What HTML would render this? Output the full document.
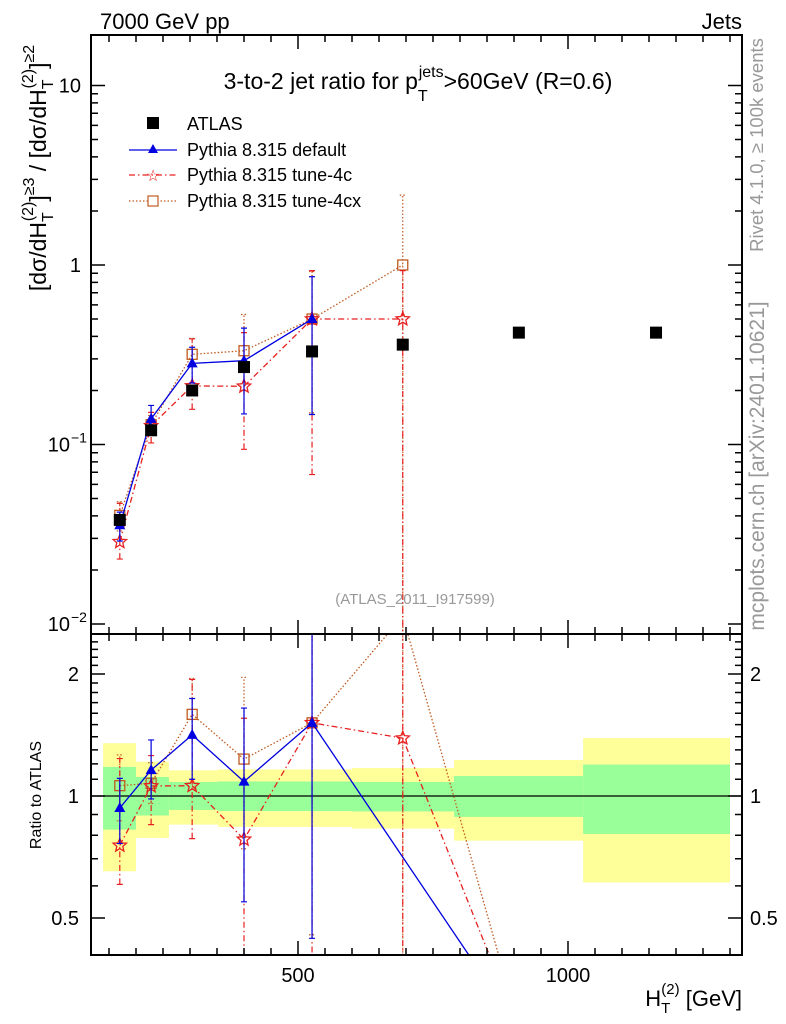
<!DOCTYPE html>
<html><head><meta charset="utf-8"><style>
html,body{margin:0;padding:0;background:#fff;overflow:hidden;}
svg{display:block;font-family:"Liberation Sans",Arial,sans-serif;}
</style></head><body>
<svg id="chart" width="786" height="1024" viewBox="0 0 786 1024">
<defs>
<clipPath id="clipMain"><rect x="91" y="35" width="651" height="599"/></clipPath>
<clipPath id="clipRatio"><rect x="91" y="634" width="651" height="321"/></clipPath>
</defs>
<g id="bands" clip-path="url(#clipRatio)"></g>
<g id="gridlines"></g>
<g id="mainMarks" clip-path="url(#clipMain)"></g>
<g id="ratioMarks" clip-path="url(#clipRatio)"></g>
<g id="axes"></g>

<text x="100" y="29" font-size="22">7000 GeV pp</text>
<text x="742" y="29" font-size="22" text-anchor="end">Jets</text>
<text x="418" y="89" font-size="23" text-anchor="middle">3-to-2 jet ratio for p<tspan font-size="16" dy="12">T</tspan><tspan font-size="16" dx="-9" dy="-24">jets</tspan><tspan dy="12">&gt;60GeV (R=0.6)</tspan></text>
<text x="415" y="604" font-size="15" fill="#999" text-anchor="middle">(ATLAS_2011_I917599)</text>
<text transform="translate(763,145) rotate(-90)" font-size="18.5" fill="#999" text-anchor="middle">Rivet 4.1.0, ≥ 100k events</text>
<text transform="translate(764,466) rotate(-90)" font-size="21" fill="#999" text-anchor="middle">mcplots.cern.ch [arXiv:2401.10621]</text>
<text transform="translate(46,168) rotate(-90)" font-size="23" text-anchor="middle">[dσ/dH<tspan font-size="16" dy="7">T</tspan><tspan font-size="16" dx="-9" dy="-20">(2)</tspan><tspan dy="13">]</tspan><tspan font-size="16" dy="-12">≥3</tspan><tspan dy="12"> / [dσ/dH</tspan><tspan font-size="16" dy="7">T</tspan><tspan font-size="16" dx="-9" dy="-20">(2)</tspan><tspan dy="13">]</tspan><tspan font-size="16" dy="-12">≥2</tspan></text>
<text transform="translate(41,795) rotate(-90)" font-size="16" text-anchor="middle">Ratio to ATLAS</text>
<text x="742" y="1006" font-size="22" text-anchor="end">H<tspan font-size="15" dy="7">T</tspan><tspan font-size="15" dx="-9" dy="-19">(2)</tspan><tspan dy="12"> [GeV]</tspan></text>

<g id="legend">
<g><rect x="147" y="117" width="12" height="12" fill="#000"/><text x="187" y="130" font-size="18">ATLAS</text></g>
<g><line x1="129" y1="150" x2="177" y2="150" stroke="#0000e0" stroke-width="1.3"/><path d="M153,144 L158,153 L148,153Z" fill="#0000e0"/><text x="187" y="156" font-size="18">Pythia 8.315 default</text></g>
<g><line x1="129" y1="175" x2="177" y2="175" stroke="#e82020" stroke-width="1.3" stroke-dasharray="6,3,1.5,3"/><text x="153" y="181" font-size="16" fill="#e82020" text-anchor="middle">☆</text><text x="187" y="181" font-size="18">Pythia 8.315 tune-4c</text></g>
<g><line x1="129" y1="201" x2="177" y2="201" stroke="#c05a20" stroke-width="1.3" stroke-dasharray="1.5,2"/><rect x="148" y="196" width="10" height="10" fill="#fff" stroke="#c05a20" stroke-width="1.2"/><text x="187" y="207" font-size="18">Pythia 8.315 tune-4cx</text></g>
</g>
</svg>
<script>
// ---- data ----
const xVals = [170, 228, 304, 400, 526, 694, 909, 1163];
const atlasVals = [0.038, 0.12, 0.2, 0.27, 0.33, 0.36, 0.42, 0.42];
const binEdges = [139, 200, 261, 352, 450, 600, 789, 1028, 1300];
const yellowHi = [1.35, 1.215, 1.157, 1.163, 1.163, 1.172, 1.227, 1.39];
const yellowLo = [0.652, 0.788, 0.85, 0.839, 0.839, 0.831, 0.776, 0.612];
const greenHi = [1.18, 1.114, 1.083, 1.086, 1.086, 1.083, 1.12, 1.196];
const greenLo = [0.826, 0.895, 0.924, 0.918, 0.918, 0.916, 0.888, 0.806];
const defVals = [0.0355, 0.139, 0.283, 0.293, 0.5];
const defLo = [0.029, 0.118, 0.22, 0.148, 0.147];
const defHi = [0.042, 0.165, 0.348, 0.445, 0.86];
const c4Vals = [0.0287, 0.127, 0.212, 0.211, 0.5, 0.5];
const c4Lo = [0.023, 0.102, 0.157, 0.094, 0.068, 0.0];
const c4Hi = [0.047, 0.151, 0.388, 0.42, 0.93, 0.93];
const cxVals = [0.0403, 0.129, 0.318, 0.333, 0.5, 1.0];
const cxLo = [0.033, 0.115, 0.28, 0.2, 0.15, 0.0];
const cxHi = [0.048, 0.145, 0.39, 0.53, 0.92, 2.45];
// ratio-panel continuation to the 909 GeV bin (empty MC)
const defTail = 0.266, c4Tail = 0.266, cxTail = 0.27;
const tailIndex = 6;
const ratioTicks = [0.5, 1, 2];
const ratioTickLabels = ["0.5", "1", "2"];
const xTicks = [500, 1000];
const xTickLabels = ["500", "1000"];

// ---- axes ----
const X = v => 298 + (v - 500) * 0.54;
const Ym = v => 265 - 179.5 * Math.log10(Math.max(v, 1e-6));
const Yr = r => 796 - 122 * Math.log2(Math.max(r, 1e-6));
const NS = "http://www.w3.org/2000/svg";
function mk(tag, attrs, parent){const e=document.createElementNS(NS,tag);for(const k in attrs)e.setAttribute(k,attrs[k]);parent.appendChild(e);return e;}
const bands=document.getElementById('bands'), mainG=document.getElementById('mainMarks'), ratG=document.getElementById('ratioMarks'), axes=document.getElementById('axes');

for(let i=0;i<yellowHi.length;i++){
  const x0=X(binEdges[i]), x1=X(binEdges[i+1]);
  const y=mk('rect',{x:x0,y:Yr(yellowHi[i]),width:x1-x0,height:Yr(yellowLo[i])-Yr(yellowHi[i]),fill:'#ffff99'},bands);
  
  
  const g=mk('rect',{x:x0,y:Yr(greenHi[i]),width:x1-x0,height:Yr(greenLo[i])-Yr(greenHi[i]),fill:'#99ff99'},bands);
  
  
}
const one=mk('line',{x1:91,x2:742,y1:Yr(1),y2:Yr(1),stroke:'#000','stroke-width':1.2},document.getElementById('gridlines'));



function starPath(cx,cy,r){let d='';for(let k=0;k<10;k++){const a=-Math.PI/2+k*Math.PI/5;const rr=k%2?r*0.45:r;d+=(k?'L':'M')+(cx+rr*Math.cos(a)).toFixed(1)+','+(cy+rr*Math.sin(a)).toFixed(1);}return d+'Z';}
function marker(kind,x,y,color,g){
  let m;
  if(kind==='tri') m=mk('path',{d:`M${x},${y-6} L${x+5.5},${y+4} L${x-5.5},${y+4}Z`,fill:color},g);
  else if(kind==='star') m=mk('path',{d:starPath(x,y,7),fill:'none',stroke:color,'stroke-width':1.3},g);
  else m=mk('rect',{x:x-5,y:y-5,width:10,height:10,fill:'none',stroke:color,'stroke-width':1.3},g);
  
  
}
function series(vals,lo,hi,tail,color,dash,kind,name){
  const n=vals.length;
  const ptsM=vals.map((v,i)=>X(xVals[i])+','+Ym(v)).join(' ');
  const pl=mk('polyline',{points:ptsM,fill:'none',stroke:color,'stroke-width':1.3,'stroke-dasharray':dash},mainG);
  
  
  for(let i=0;i<n;i++){
    const x=X(xVals[i]);
    const eb=mk('path',{d:`M${x},${Ym(lo[i])}V${Ym(hi[i])}M${x-3},${Ym(lo[i])}h6M${x-3},${Ym(hi[i])}h6`,stroke:color,'stroke-width':1.2,'stroke-dasharray':dash,fill:'none'},mainG);
    
    
    marker(kind,x,Ym(vals[i]),color,mainG);
  }
  const rp=vals.map((v,i)=>X(xVals[i])+','+Yr(v/atlasVals[i]));
  rp.push(X(xVals[tailIndex])+','+Yr(tail));
  const pr=mk('polyline',{points:rp.join(' '),fill:'none',stroke:color,'stroke-width':1.3,'stroke-dasharray':dash},ratG);
  
  
  for(let i=0;i<n;i++){
    const x=X(xVals[i]), a=atlasVals[i];
    const eb=mk('path',{d:`M${x},${Yr(lo[i]/a)}V${Yr(hi[i]/a)}M${x-3},${Yr(lo[i]/a)}h6M${x-3},${Yr(hi[i]/a)}h6`,stroke:color,'stroke-width':1.2,'stroke-dasharray':dash,fill:'none'},ratG);
    
    
    marker(kind,x,Yr(vals[i]/a),color,ratG);
  }
}
series(cxVals,cxLo,cxHi,cxTail,'#c05a20','1.5,2','sq','tune-4cx');
series(c4Vals,c4Lo,c4Hi,c4Tail,'#e82020','6,3,1.5,3','star','tune-4c');
series(defVals,defLo,defHi,defTail,'#0000e0','','tri','default');
atlasVals.forEach((v,i)=>{
  const r=mk('rect',{x:X(xVals[i])-6,y:Ym(v)-6,width:12,height:12,fill:'#000'},mainG);
  
  
});

[[35,634],[634,955]].forEach(([t,b])=>{
  const f=mk('rect',{x:91,y:t,width:651,height:b-t,fill:'none',stroke:'#000','stroke-width':2},axes);
  
  
});
let d='';
for(let v=150;v<=1300;v+=50){
  const x=X(v); const L=(v%500===0)?14:7;
  d+=`M${x},35v${L}M${x},634v-${L}M${x},634v${L}M${x},955v-${L}`;
}
for(let e=-2;e<=1;e++){for(let k=1;k<=9;k++){const v=k*Math.pow(10,e);const y=Ym(v);if(y<36||y>634)continue;const L=k===1?14:7;d+=`M91,${y}h${L}M742,${y}h-${L}`;}}
for(let r=0.4;r<=2.55;r+=0.1){const rr=Math.round(r*10)/10;const y=Yr(rr);if(y<635||y>954)continue;const L=(rr===0.5||rr===1||rr===2)?14:7;d+=`M91,${y}h${L}M742,${y}h-${L}`;}
const tk=mk('path',{d:d,stroke:'#000','stroke-width':1.5,fill:'none'},axes);


xTicks.forEach((v,i)=>{const t=mk('text',{x:X(v),y:982,'font-size':20,'text-anchor':'middle'},axes);t.textContent=xTickLabels[i];
  
  });
ratioTicks.forEach((r,i)=>{
  const a=mk('text',{x:79,y:Yr(r)+7,'font-size':20,'text-anchor':'end'},axes);a.textContent=ratioTickLabels[i];
  
  
  const b=mk('text',{x:750,y:Yr(r)+7,'font-size':20},axes);b.textContent=ratioTickLabels[i];
  
  
});
[[10,'10',''],[1,'1',''],[0.1,'10','−1'],[0.01,'10','−2']].forEach(([v,b,s])=>{
  const t=mk('text',{x:s?70:81,y:Ym(v)+7,'font-size':20,'text-anchor':'end'},axes);t.textContent=b;
  
  
  if(s){const u=mk('text',{x:71,y:Ym(v)-2,'font-size':14},axes);u.textContent=s;
    
    }
});
</script>
</body></html>
